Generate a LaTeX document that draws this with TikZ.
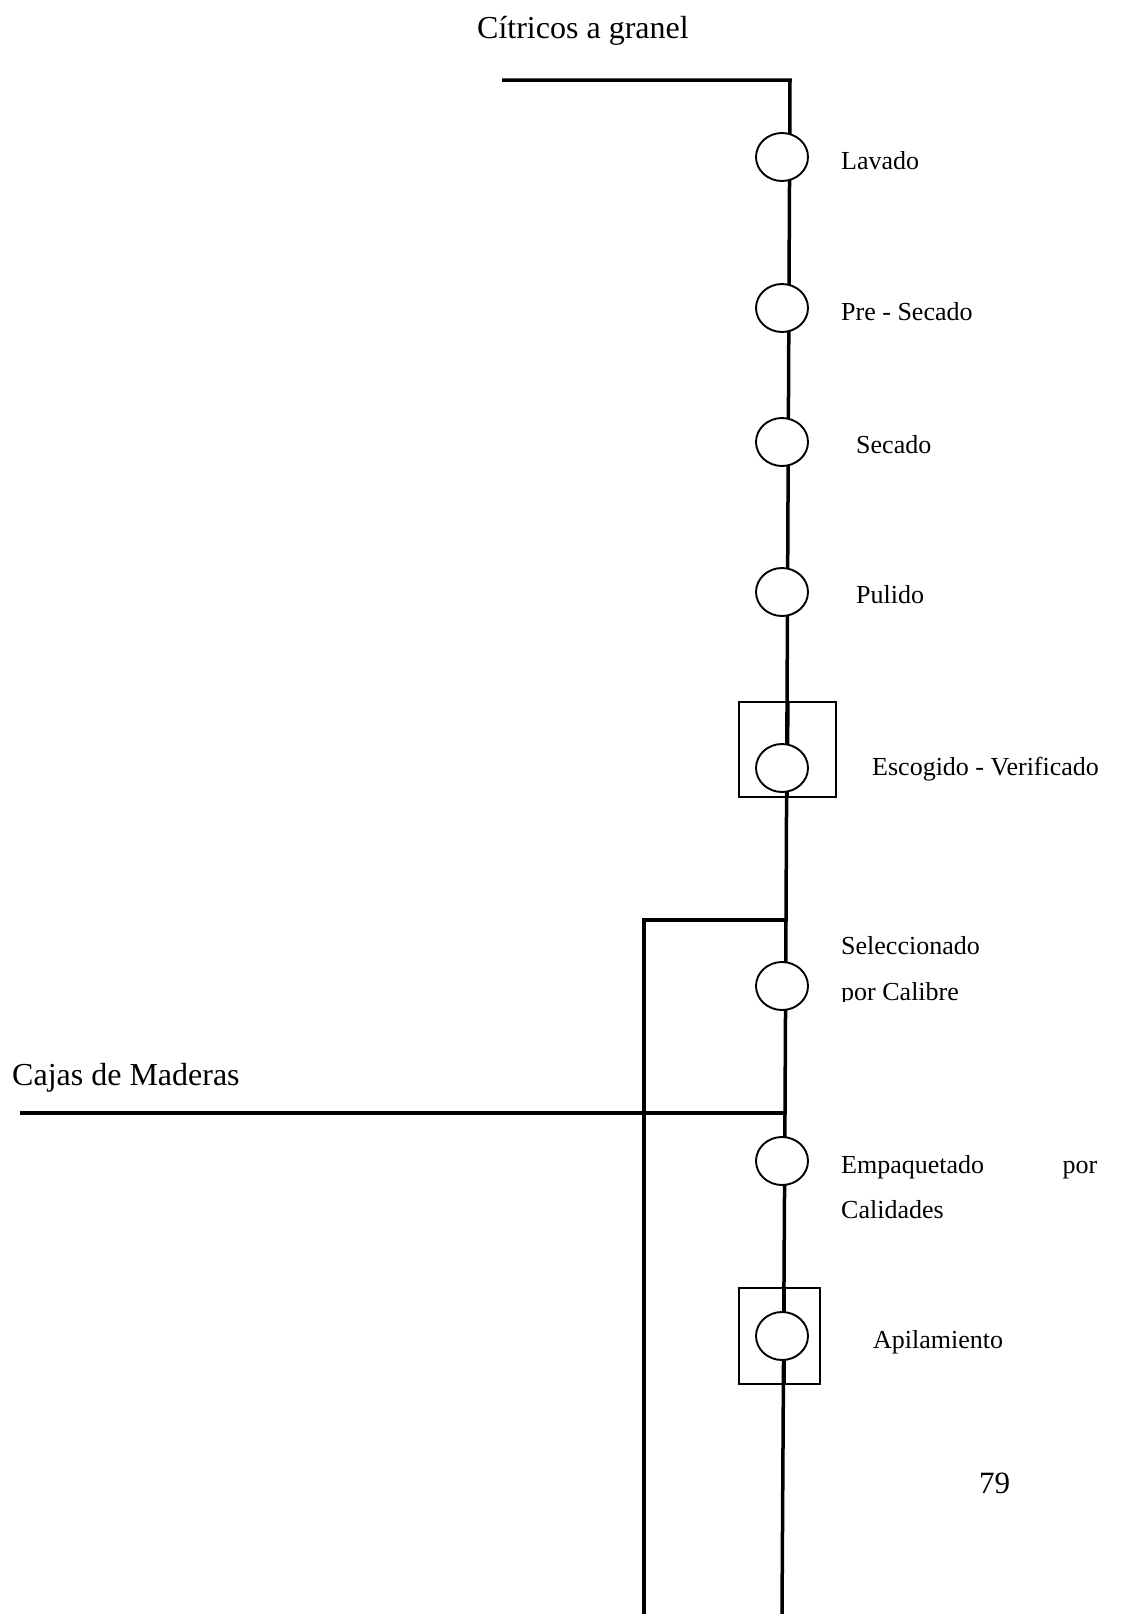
\documentclass[tikz,border=0pt]{standalone}
\usepackage{fontspec}
\setmainfont{Liberation Serif}
\usetikzlibrary{shapes.geometric}
\begin{document}
\begin{tikzpicture}[x=1pt,y=-1pt,
  trunk/.style={line width=3.5pt},
  stage/.style={draw,line width=1.9pt,fill=white,ellipse,minimum width=52pt,minimum height=48pt,inner sep=0pt},
  inspect/.style={draw,line width=1.6pt},
  lbl/.style={anchor=base west,inner sep=0pt,font=\fontsize{26}{30}\selectfont},
  big/.style={anchor=base west,inner sep=0pt,font=\fontsize{32}{36}\selectfont}]
\useasboundingbox (0,0) rectangle (1124,1614);

% flow lines
\coordinate (in0) at (502,80);
\coordinate (k0) at (790,80);
\coordinate (jb) at (786,920);
\coordinate (jc) at (785,1113);
\coordinate (bot) at (782,1614);
\coordinate (bl) at (644,920);
\coordinate (blb) at (644,1614);
\coordinate (caj) at (20,1113);
\draw[trunk] (in0) -- (k0) -- (jb) -- (jc) -- (bot);
\draw[trunk] (jb) -- (bl) -- (blb);
\draw[trunk] (caj) -- (jc);

% inspection frames
\node[inspect,minimum width=97pt,minimum height=95pt,inner sep=0pt] (f1) at (787.5,749.5) {};
\node[inspect,minimum width=81pt,minimum height=96pt,inner sep=0pt] (f2) at (779.5,1336) {};
\draw[trunk] (788,702) -- (787,797);
\draw[trunk] (784,1288) -- (784,1384);

% operations
\node[stage] (c1) at (782,157) {};
\node[stage] (c2) at (782,308) {};
\node[stage] (c3) at (782,442) {};
\node[stage] (c4) at (782,592) {};
\node[stage] (c5) at (782,768) {};
\node[stage] (c6) at (782,986) {};
\node[stage] (c7) at (782,1161) {};
\node[stage] (c8) at (782,1336) {};

% labels
\node[big] (t0) at (477,38) {Cítricos a granel};
\node[anchor=base west,inner sep=0pt,font=\fontsize{32}{36}\selectfont] (t1) at (12,1085) {Cajas de Maderas};
\node[lbl] (l1) at (841,169) {Lavado};
\node[lbl] (l2) at (841,320) {Pre - Secado};
\node[lbl] (l3) at (856,453) {Secado};
\node[lbl] (l4) at (856,603) {Pulido};
\node[lbl] (l5) at (872,775) {Escogido - Verificado};
\node[lbl] (l6) at (841,954) {Seleccionado};
\begin{scope}
  \clip (830,960) rectangle (1000,1001);
  \node[lbl] (l6b) at (841,1000) {por Calibre};
\end{scope}
\node[lbl] (l7) at (841,1173) {\makebox[256pt][s]{Empaquetado\hfill por}};
\node[lbl] (l7b) at (841,1218) {Calidades};
\node[lbl] (l8) at (873,1348) {Apilamiento};
\node[anchor=base west,inner sep=0pt,font=\fontsize{31}{36}\selectfont] (pg) at (979,1493) {79};
\end{tikzpicture}
\end{document}
